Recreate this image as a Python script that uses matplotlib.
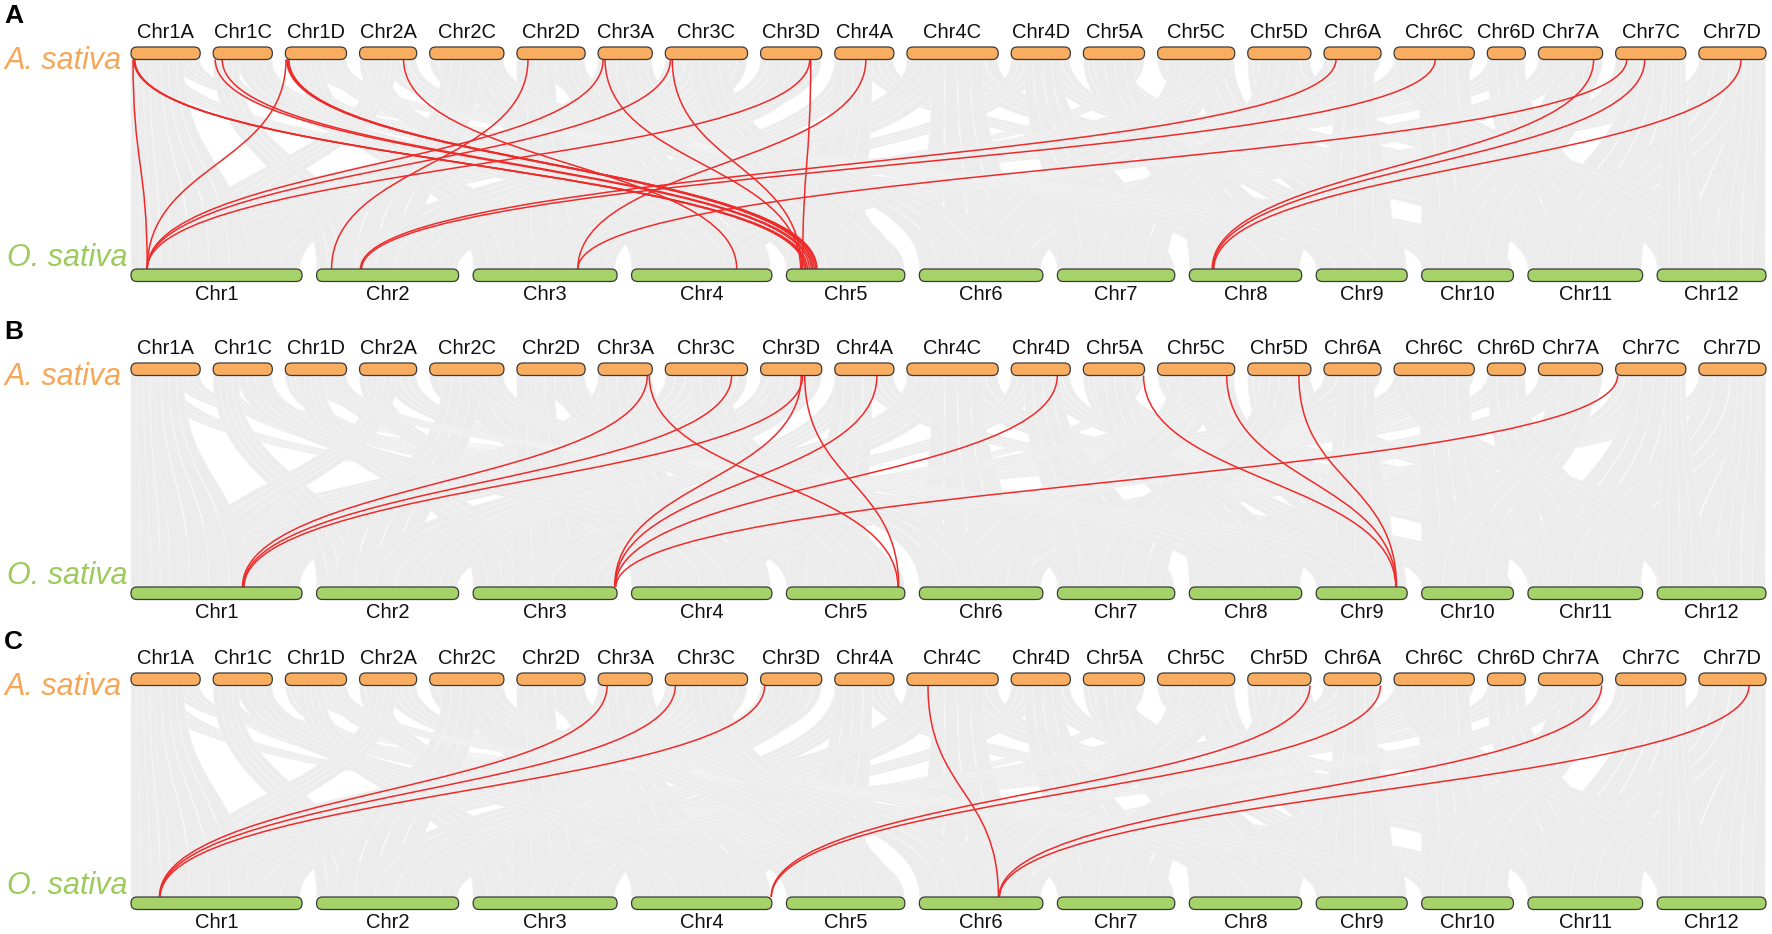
import matplotlib
matplotlib.use("Agg")
import matplotlib.pyplot as plt
import numpy as np
from matplotlib.patches import FancyBboxPatch, PathPatch
from matplotlib.path import Path

plt.rcParams["font.family"] = ["Liberation Sans", "DejaVu Sans"]

# chromosome names and lengths (Mb)
OAT_CHRS = ["1A", "1C", "1D", "2A", "2C", "2D", "3A", "3C", "3D", "4A", "4C",
            "4D", "5A", "5C", "5D", "6A", "6C", "6D", "7A", "7C", "7D"]
OAT_LEN = [545, 466, 482, 450, 585, 537, 427, 648, 482, 466, 719,
           466, 482, 608, 498, 450, 632, 300, 506, 553, 529]
RICE_CHRS = ["1", "2", "3", "4", "5", "6", "7", "8", "9", "10", "11", "12"]
RICE_LEN = [43.27, 35.94, 36.41, 35.50, 29.96, 31.25, 29.70, 28.44, 23.01,
            23.21, 29.02, 27.53]

# background collinear blocks: oat chr, start, end, rice chr, start, end
GREY_BLOCKS = [
    ("1A", 0, 120, "1", 0, 5), ("1A", 120, 330, "5", 0, 15),
    ("1A", 330, 545, "10", 3, 23), ("1C", 0, 150, "5", 2, 12),
    ("1C", 150, 300, "10", 0, 11), ("1C", 300, 466, "5", 15, 30),
    ("1D", 0, 160, "5", 5, 17), ("1D", 160, 320, "10", 9, 23),
    ("1D", 320, 482, "5", 17, 30), ("2A", 0, 200, "4", 0, 15),
    ("2A", 200, 450, "7", 5, 29.7), ("2C", 0, 260, "7", 0, 16),
    ("2C", 260, 585, "4", 10, 35.5), ("2D", 0, 220, "4", 3, 19),
    ("2D", 220, 537, "7", 12, 29.7), ("3A", 0, 200, "1", 2, 22),
    ("3A", 200, 427, "1", 22, 43), ("3C", 0, 320, "1", 0, 20),
    ("3C", 320, 648, "1", 20, 43), ("3D", 0, 240, "1", 3, 23),
    ("3D", 240, 482, "1", 23, 43), ("4A", 0, 220, "3", 0, 20),
    ("4A", 220, 466, "11", 0, 28), ("4C", 0, 330, "3", 12, 36),
    ("4C", 330, 719, "11", 5, 29), ("4D", 0, 220, "3", 5, 25),
    ("4D", 220, 466, "11", 10, 29), ("5A", 0, 160, "9", 0, 12),
    ("5A", 160, 330, "12", 0, 14), ("5A", 330, 482, "3", 26, 36),
    ("5C", 0, 260, "12", 6, 27), ("5C", 260, 608, "9", 4, 23),
    ("5D", 0, 170, "9", 6, 23), ("5D", 170, 498, "12", 10, 27.5),
    ("6A", 0, 450, "2", 0, 35.9), ("6C", 0, 300, "2", 0, 18),
    ("6C", 300, 632, "2", 18, 35.9), ("6D", 0, 300, "2", 4, 32),
    ("7A", 0, 250, "6", 0, 16), ("7A", 250, 506, "8", 0, 28.4),
    ("7C", 0, 280, "8", 2, 20), ("7C", 280, 553, "6", 12, 31),
    ("7D", 0, 260, "6", 6, 25), ("7D", 260, 529, "12", 2, 27.5),
    # scattered / translocated segments
    ("1A", 0, 200, "1", 0, 10), ("1C", 0, 200, "2", 0, 12),
    ("1D", 100, 300, "3", 0, 15), ("2A", 100, 300, "1", 10, 25),
    ("2C", 100, 400, "2", 5, 25), ("2D", 0, 300, "3", 10, 30),
    ("3A", 0, 300, "4", 0, 20), ("3C", 200, 500, "5", 5, 25),
    ("3D", 100, 400, "2", 10, 30), ("4A", 0, 300, "5", 0, 20),
    ("4C", 200, 600, "6", 0, 25), ("4D", 100, 400, "7", 0, 25),
    ("5A", 100, 400, "8", 0, 25), ("5C", 100, 500, "6", 5, 28),
    ("5D", 100, 400, "7", 5, 28), ("6A", 100, 400, "9", 0, 20),
    ("6C", 200, 600, "10", 0, 20), ("6D", 0, 300, "11", 0, 25),
    ("7A", 100, 450, "10", 0, 22), ("7C", 100, 500, "11", 2, 29),
    ("7D", 0, 500, "11", 5, 29), ("6C", 0, 300, "12", 0, 20),
    ("7A", 0, 300, "4", 10, 30), ("5C", 300, 600, "3", 10, 30),
    ("4C", 0, 300, "2", 20, 35), ("2C", 300, 585, "8", 5, 25),
    ("1D", 300, 482, "9", 0, 20), ("3A", 200, 427, "6", 0, 20),
    ("2D", 300, 537, "5", 10, 28), ("1C", 200, 466, "4", 5, 30),
    ("7D", 300, 529, "12", 15, 27.5), ("7C", 400, 553, "12", 0, 12),
    ("1A", 180, 420, "1", 10, 30),
]

# highlighted gene pairs per panel: oat chr, pos, rice chr, pos
RED_A = [
    ("1A", 16, "1", 4.1), ("1A", 22, "5", 4.6), ("1A", 26, "5", 4.9),
    ("1A", 30, "5", 5.3), ("1C", 16, "5", 5.8), ("1C", 71, "5", 6.3),
    ("1D", 5, "1", 4.1), ("1D", 12, "5", 6.6), ("1D", 18, "5", 7.0),
    ("1D", 24, "5", 7.4), ("1D", 28, "5", 7.7), ("2A", 347, "4", 26.6),
    ("2D", 87, "2", 3.8), ("3A", 40, "1", 4.1), ("3A", 55, "5", 3.6),
    ("3C", 40, "1", 4.1), ("3C", 55, "5", 3.8), ("3D", 387, "1", 4.1),
    ("3D", 395, "5", 4.1), ("4A", 245, "3", 26.5), ("6A", 95, "2", 11.1),
    ("6C", 324, "2", 11.4), ("7C", 87, "3", 26.5), ("7A", 435, "8", 5.8),
    ("7C", 229, "8", 6.0), ("7D", 332, "8", 6.2),
]
RED_B = [
    ("3A", 387, "1", 28.2), ("3C", 522, "1", 28.4), ("3D", 332, "1", 28.6),
    ("3A", 403, "5", 28.2), ("3D", 348, "5", 28.4), ("3D", 320, "3", 35.8),
    ("4A", 332, "3", 35.9), ("4D", 363, "3", 36.0), ("7C", 16, "3", 36.1),
    ("5A", 474, "9", 20.1), ("5C", 545, "9", 20.2), ("5D", 403, "9", 20.3),
]
RED_C = [
    ("3A", 71, "1", 7.2), ("3C", 79, "1", 7.3), ("3D", 32, "1", 7.4),
    ("5D", 490, "4", 35.3), ("6A", 445, "4", 35.4), ("4C", 166, "6", 20.0),
    ("7A", 498, "6", 20.2), ("7D", 395, "6", 20.3),
]
PANELS = ["A", "B", "C"]

W, H = 1772, 934
X0, X1 = 131, 1766
TOP_GAP, BOT_GAP = 13, 14.5
BAR_H = 12.5
PANEL_TOP = [47, 363, 673]      # top edge of orange bars
PANEL_BOT = [269, 587, 897]     # top edge of green bars

ORANGE = "#f9ad60"
GREEN = "#a6d26a"
RED = "#ee2b2b"
GREY = "#ececec"


def layout(lengths, gap):
    scale = (X1 - X0 - gap * (len(lengths) - 1)) / sum(lengths)
    starts = []
    x = X0
    for ln in lengths:
        starts.append(x)
        x += ln * scale + gap
    return dict(starts=starts, scale=scale)


top_lay = layout(OAT_LEN, TOP_GAP)
bot_lay = layout(RICE_LEN, BOT_GAP)


def oat_x(chrom, pos):
    i = OAT_CHRS.index(chrom)
    return top_lay["starts"][i] + pos * top_lay["scale"]


def rice_x(chrom, pos):
    i = RICE_CHRS.index(chrom)
    return bot_lay["starts"][i] + pos * bot_lay["scale"]


def link_path(xa, ya, xb, yb):
    ym = (ya + yb) / 2
    return Path([(xa, ya), (xa, ym), (xb, ym), (xb, yb)],
                [Path.MOVETO, Path.CURVE4, Path.CURVE4, Path.CURVE4])


def ribbon_path(a0, a1, b0, b1, ya, yb):
    ym = (ya + yb) / 2
    verts = [(a0, ya), (a0, ym), (b0, ym), (b0, yb), (b1, yb),
             (b1, ym), (a1, ym), (a1, ya), (a0, ya)]
    codes = [Path.MOVETO, Path.CURVE4, Path.CURVE4, Path.CURVE4, Path.LINETO,
             Path.CURVE4, Path.CURVE4, Path.CURVE4, Path.CLOSEPOLY]
    return Path(verts, codes)


def draw_panel(ax, k, red_links):
    ytop = PANEL_TOP[k] + BAR_H
    ybot = PANEL_BOT[k]

    # grey background, each block split into strips for the fine texture
    n_sub = 4
    for oc, os_, oe, rc, rs, re_ in GREY_BLOCKS:
        oo = np.linspace(os_, oe, n_sub + 1)
        rr = np.linspace(rs, re_, n_sub + 1)
        for j in range(n_sub):
            a0, a1 = oat_x(oc, oo[j]), oat_x(oc, oo[j + 1])
            b0, b1 = rice_x(rc, rr[j]), rice_x(rc, rr[j + 1])
            p = ribbon_path(a0, a1 - 0.06 * (a1 - a0), b0, b1 - 0.06 * (b1 - b0), ytop, ybot)
            ax.add_patch(PathPatch(p, fc=GREY, ec="#f7f7f7", lw=0.3, zorder=1))

    for oc, op, rc, rp in red_links:
        p = link_path(oat_x(oc, op), ytop, rice_x(rc, rp), ybot)
        ax.add_patch(PathPatch(p, fc="none", ec=RED, lw=1.1, zorder=3))

    # chromosome bars and names
    for i, (name, ln) in enumerate(zip(OAT_CHRS, OAT_LEN)):
        x = top_lay["starts"][i]
        w = ln * top_lay["scale"]
        ax.add_patch(FancyBboxPatch((x, PANEL_TOP[k]), w, BAR_H,
                                    boxstyle="round,pad=0,rounding_size=6",
                                    fc=ORANGE, ec="#3a3a3a", lw=0.9, zorder=4))
        ax.text(x + w / 2, PANEL_TOP[k] - 15, "Chr" + name, ha="center",
                va="center", fontsize=14.5, color="#111111", zorder=5)
    for i, (name, ln) in enumerate(zip(RICE_CHRS, RICE_LEN)):
        x = bot_lay["starts"][i]
        w = ln * bot_lay["scale"]
        ax.add_patch(FancyBboxPatch((x, PANEL_BOT[k]), w, BAR_H,
                                    boxstyle="round,pad=0,rounding_size=6",
                                    fc=GREEN, ec="#3a3a3a", lw=0.9, zorder=4))
        ax.text(x + w / 2, PANEL_BOT[k] + BAR_H + 13, "Chr" + name, ha="center",
                va="center", fontsize=14.5, color="#111111", zorder=5)

    ax.text(5, PANEL_TOP[k] + 14, "A. sativa", ha="left", va="center",
            fontsize=22, style="italic", color="#f6a656")
    ax.text(7, PANEL_BOT[k] - 11, "O. sativa", ha="left", va="center",
            fontsize=22, style="italic", color="#9ccb5b")
    ax.text(4, PANEL_TOP[k] - 31, PANELS[k], ha="left", va="center",
            fontsize=19, fontweight="bold", color="black")


fig = plt.figure(figsize=(W / 100, H / 100), dpi=100)
ax = fig.add_axes([0, 0, 1, 1])
ax.set_xlim(0, W)
ax.set_ylim(H, 0)
ax.axis("off")

for k, links in enumerate([RED_A, RED_B, RED_C]):
    draw_panel(ax, k, links)

fig.savefig("out.png", dpi=100, facecolor="white")
